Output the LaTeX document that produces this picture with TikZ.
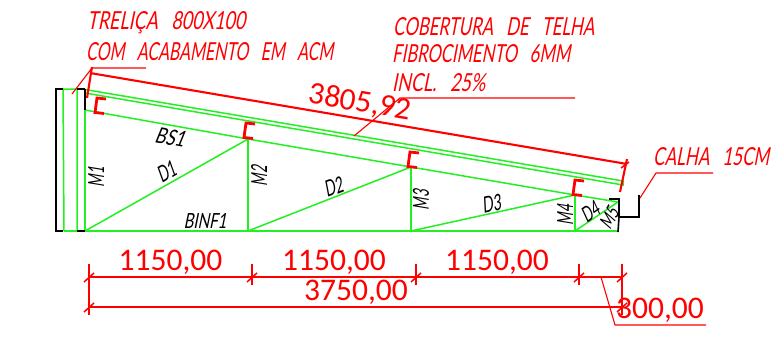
\documentclass[tikz,border=0pt]{standalone}
\usepackage{graphicx}
\usepackage{fontspec}
\setmainfont{Carlito}
\newfontfamily\cadfont[FakeSlant=0.28]{Lato}
\newfontfamily\cadblack[FakeSlant=0.28]{Lato}
\definecolor{trussgreen}{HTML}{22F022}
\newcommand{\cadtext}[3]{\resizebox{#1pt}{#2pt}{\cadfont #3}}
\newcommand{\cadlabel}[3]{\resizebox{#1pt}{#2pt}{\cadblack #3}}
\tikzset{
  truss/.style={draw=trussgreen,line width=1.5pt},
  steel/.style={draw=black,line width=1.6pt,line cap=square},
  gutter/.style={draw=black,line width=2pt},
  dim/.style={draw=red,line width=1.5pt},
  dimheavy/.style={draw=red,line width=2.1pt},
  leader/.style={draw=red,line width=1.1pt},
  purlin/.style={draw=red,line width=2.8pt,line cap=butt,line join=miter},
  redcad/.style={text=red,inner sep=0pt,anchor=base west},
  blackcad/.style={text=black,inner sep=0pt,anchor=center},
  dimtext/.style={text=red,inner sep=0pt,font=\fontsize{31.5}{32}\selectfont,anchor=base},
}
\newcommand{\purl}[2]{\draw[purlin] (#1+9,#2+1) -- (#1,#2) -- (#1-2,#2+14.5) -- (#1+7,#2+15.5);}
\newcommand{\tick}[2]{\draw[dim] (#1-5,#2+5) -- (#1+5,#2-4);}
\begin{document}
\begin{tikzpicture}[x=1pt,y=-1pt]
\useasboundingbox[fill=white] (0,0) rectangle (776,337);
% joints
\coordinate (tl) at (85,89.5); \coordinate (tr) at (623,181);
\coordinate (ml) at (85,93);   \coordinate (mr) at (623,185);
\coordinate (b1) at (85,110); \coordinate (b2) at (248,139); \coordinate (b3) at (411,167); \coordinate (b4) at (575,195); \coordinate (b5) at (618,202);
\coordinate (g0) at (64,231); \coordinate (g1) at (85,231); \coordinate (g2) at (248,231); \coordinate (g3) at (411,231); \coordinate (g4) at (575,231); \coordinate (g5) at (618,231);
% truss
\draw[truss] (63,89) -- (g0) (77,89) -- (77,231);
\draw[truss] (63,89) -- (77,89) (tl) -- (tr) -- (mr) -- (ml) (b1) -- (b2) -- (b3) -- (b4) -- (b5);
\draw[truss] (g0) -- (g5);
\draw[truss] (tl) -- (g1) (b2) -- (g2) (b3) -- (g3) (b4) -- (g4);
\draw[truss] (g1) -- (b2) (g2) -- (b3) (g3) -- (b4) (g4) -- (b5);
% black steel
\draw[steel] (63,89) -- (56,89) -- (56,231) -- (63,231);
\draw[steel] (77,89) -- (85,89) (85,89) -- (85,110);
\draw[steel] (77,231) -- (85,231);
\draw[gutter] (609,199) -- (619,199) -- (619,217) -- (639,217) -- (639,195);
\draw[steel] (619,217) -- (618,232);
% purlins
\purl{97}{98}\purl{246}{123}\purl{410}{152}\purl{575}{180}
% inclined dimension
\coordinate (il) at (90,73); \coordinate (ir) at (627,164);
\draw[dimheavy] (il) -- (ir);
\draw[dimheavy] (87,98) -- (92,67);
\draw[dimheavy] (620,192) -- (627,159);
\draw[dim] (621,168) -- (629,162);
\draw[leader] (72,94) -- (92,68) -- (146,68);
\draw[leader] (354,136) -- (400,98) -- (575,98);
\draw[leader] (640,198) -- (656,173) -- (713,173);
\draw[leader] (601,277) -- (615,325) -- (706,325);
% horizontal dimensions
\draw[dim] (89,277) -- (622,277);
\draw[dim] (89,307) -- (622,307);
\draw[dimheavy] (89,264) -- (89,315);
\draw[dim] (252,264) -- (252,285) (416,264) -- (416,285) (579,264) -- (579,285);
\draw[dimheavy] (622,264) -- (622,315);
\tick{89}{277}\tick{252}{277}\tick{416}{277}\tick{579}{277}\tick{622}{277}\tick{89}{307}\tick{622}{307}
% texts
\node[redcad] (t1) at (87,30) {\cadtext{158}{18}{TRELIÇA~~~800X100}};
\node[redcad] (t2) at (86,60) {\cadtext{247}{18}{COM~~~ACABAMENTO~~~EM~~~ACM}};
\node[redcad] (t3) at (393,35) {\cadtext{201}{18}{COBERTURA~~~DE~~~TELHA}};
\node[redcad] (t4) at (392,63) {\cadtext{178}{18}{FIBROCIMENTO~~~6MM}};
\node[redcad] (t5) at (392,91) {\cadtext{93}{18}{INCL.~~~25\%}};
\node[redcad] (t6) at (653,165) {\cadtext{116}{18}{CALHA~~~15CM}};
\node[dimtext] (d0) at (170.5,270) {1150,00};
\node[dimtext] (d1) at (334,270) {1150,00};
\node[dimtext] (d2) at (497,270) {1150,00};
\node[dimtext] (d3) at (356,300) {3750,00};
\node[dimtext] (d4) at (660,318) {300,00};
\node[text=red,inner sep=0pt,font=\fontsize{31.5}{32}\selectfont,rotate=-9.7] (d5) at (360,103) {3805,92};
\node[blackcad,rotate=90] (m1) at (96,177) {\cadlabel{20}{16}{M1}};
\node[blackcad,rotate=90] (m2) at (259,176) {\cadlabel{20}{16}{M2}};
\node[blackcad,rotate=90] (m3) at (421,200) {\cadlabel{20}{16}{M3}};
\node[blackcad,rotate=90] (m4) at (565,215) {\cadlabel{20}{16}{M4}};
\node[blackcad,rotate=60] (m5) at (609,218) {\cadlabel{20}{14}{M5}};
\node[blackcad,rotate=30] (q1) at (166,172) {\cadlabel{19}{16}{D1}};
\node[blackcad,rotate=21] (q2) at (333,187) {\cadlabel{19}{16}{D2}};
\node[blackcad,rotate=13] (q3) at (491,204) {\cadlabel{19}{16}{D3}};
\node[blackcad,rotate=35] (q4) at (590,212) {\cadlabel{18}{15}{D4}};
\node[blackcad,rotate=-10] (bs) at (170,137) {\cadlabel{30}{16}{BS1}};
\node[blackcad] (bi) at (205,221) {\cadlabel{43}{15}{BINF1}};
\end{tikzpicture}
\end{document}
